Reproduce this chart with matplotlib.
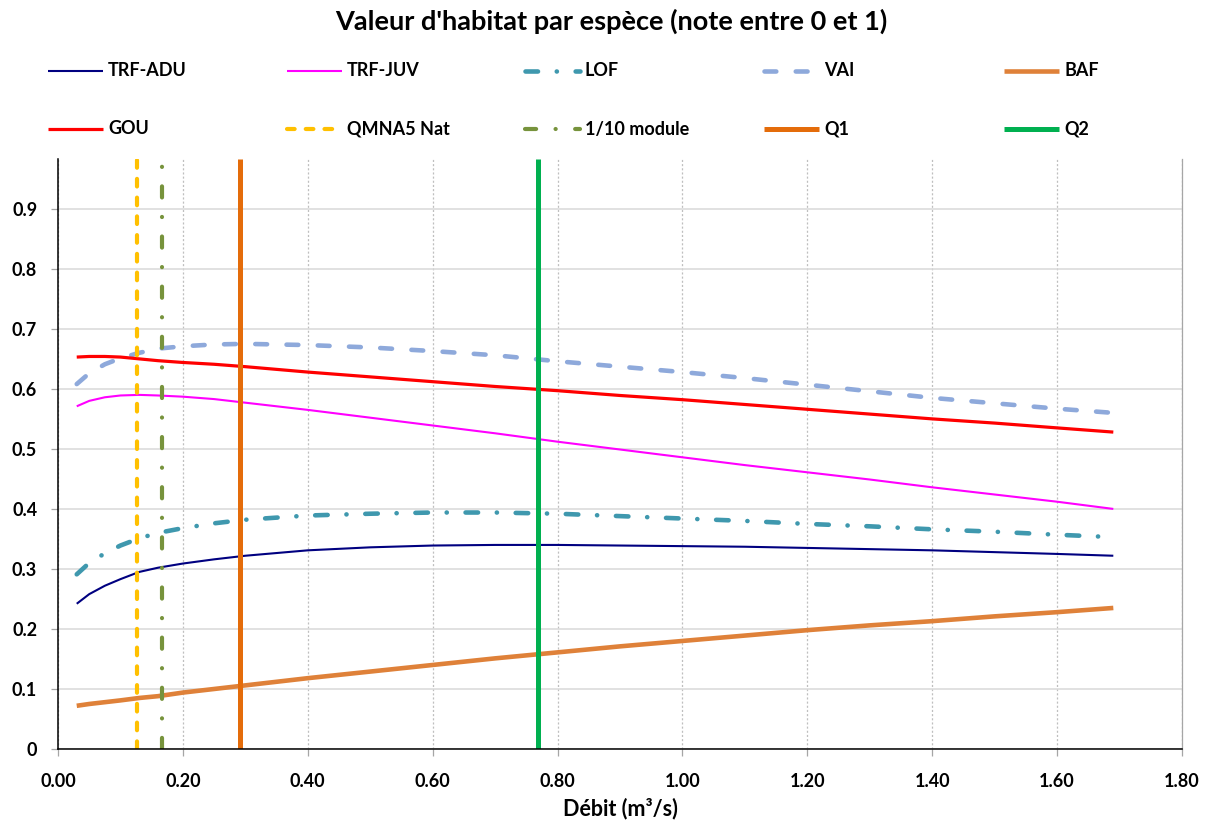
import matplotlib
matplotlib.use("Agg")
import matplotlib.pyplot as plt
from matplotlib.lines import Line2D
from matplotlib.ticker import FixedLocator, FuncFormatter

plt.rcParams['font.family'] = ['Lato', 'DejaVu Sans']
plt.rcParams['lines.scale_dashes'] = False

# Discharge (m3/s) and habitat value per species
debit = [0.03, 0.05, 0.075, 0.10, 0.13, 0.16, 0.20, 0.25, 0.30, 0.40, 0.50, 0.60,
         0.70, 0.80, 0.90, 1.00, 1.10, 1.20, 1.30, 1.40, 1.50, 1.60, 1.69]
trf_adu = [0.242, 0.258, 0.272, 0.283, 0.295, 0.302, 0.309, 0.316, 0.322, 0.331, 0.336, 0.339,
           0.340, 0.340, 0.339, 0.338, 0.337, 0.335, 0.333, 0.331, 0.328, 0.325, 0.322]
trf_juv = [0.571, 0.580, 0.586, 0.589, 0.590, 0.589, 0.587, 0.583, 0.577, 0.565, 0.552, 0.539,
           0.526, 0.512, 0.499, 0.486, 0.473, 0.461, 0.449, 0.436, 0.424, 0.412, 0.400]
lof = [0.291, 0.310, 0.326, 0.339, 0.351, 0.360, 0.368, 0.376, 0.382, 0.389, 0.392, 0.394,
       0.394, 0.392, 0.388, 0.384, 0.380, 0.375, 0.371, 0.366, 0.362, 0.357, 0.353]
vai = [0.608, 0.626, 0.641, 0.651, 0.660, 0.667, 0.671, 0.674, 0.675, 0.673, 0.669, 0.663,
       0.656, 0.646, 0.637, 0.628, 0.618, 0.607, 0.596, 0.585, 0.576, 0.567, 0.560]
baf = [0.072, 0.075, 0.078, 0.081, 0.085, 0.088, 0.094, 0.100, 0.106, 0.118, 0.129, 0.140,
       0.151, 0.161, 0.171, 0.180, 0.189, 0.198, 0.206, 0.213, 0.221, 0.228, 0.235]
gou = [0.653, 0.654, 0.654, 0.653, 0.650, 0.647, 0.644, 0.641, 0.637, 0.628, 0.620, 0.612,
       0.604, 0.597, 0.589, 0.582, 0.574, 0.566, 0.558, 0.550, 0.543, 0.535, 0.528]

# Reference discharges (m3/s)
qmna5_nat = 0.127
module_10 = 0.167
q1 = 0.292
q2 = 0.769

x_ticks = [0.0, 0.2, 0.4, 0.6, 0.8, 1.0, 1.2, 1.4, 1.6, 1.8]
y_ticks = [0, 0.1, 0.2, 0.3, 0.4, 0.5, 0.6, 0.7, 0.8, 0.9]

W, H = 1211, 825
fig = plt.figure(figsize=(W / 100, H / 100), dpi=100)
ax = fig.add_axes([58 / W, 1 - 749 / H, (1182 - 58) / W, (749 - 159) / H])

curves = [
    ("TRF-ADU", trf_adu, dict(color="#000080", lw=1.5, ls="-")),
    ("TRF-JUV", trf_juv, dict(color="#FF00FF", lw=1.5, ls="-")),
    ("LOF", lof, dict(color="#3F98AE", lw=3.3, ls=(0, (9, 13.5, 0.1, 13.5)),
                      dash_capstyle="round")),
    ("VAI", vai, dict(color="#8EA9DB", lw=3.3, ls=(0, (8.5, 14)), dash_capstyle="round")),
    ("BAF", baf, dict(color="#DF8139", lw=3.3, ls="-")),
    ("GOU", gou, dict(color="#FF0000", lw=2.3, ls="-")),
]
vlines = [
    ("QMNA5 Nat", qmna5_nat, dict(color="#FFC000", lw=3.0, ls=(0, (5.5, 8)),
                                 dash_capstyle="round")),
    ("1/10 module", module_10, dict(color="#77933C", lw=3.0, ls=(0, (8, 14, 0.1, 14)),
                                   dash_capstyle="round")),
    ("Q1", q1, dict(color="#E46C0A", lw=3.6, ls="-")),
    ("Q2", q2, dict(color="#00B050", lw=3.6, ls="-")),
]

for name, vals, st in curves:
    ax.plot(debit, vals, solid_capstyle="butt", **st)
for name, xv, st in vlines:
    ax.axvline(xv, solid_capstyle="butt", **st)

ax.set_xlim(0, 1.8)
ax.set_ylim(0, 0.983)
ax.xaxis.set_major_locator(FixedLocator(x_ticks))
ax.yaxis.set_major_locator(FixedLocator(y_ticks))
ax.xaxis.set_major_formatter(FuncFormatter(lambda v, p: f"{v:.2f}"))
ax.yaxis.set_major_formatter(FuncFormatter(lambda v, p: "0" if v == 0 else f"{v:.1f}"))

ax.grid(axis="y", color="#D9D9D9", lw=1.1, ls="-")
ax.grid(axis="x", color="#BFBFBF", lw=0.9, ls=(0, (1.5, 1.5)))
ax.set_axisbelow(True)
ax.spines["top"].set_visible(False)
ax.spines["right"].set_color("#A6A6A6")
ax.spines["right"].set_linewidth(0.9)
ax.spines["left"].set_color("black")
ax.spines["bottom"].set_color("black")
ax.spines["left"].set_linewidth(1.1)
ax.spines["bottom"].set_linewidth(1.1)
ax.tick_params(axis="both", direction="out", length=5, color="#A6A6A6", width=0.9,
               labelsize=13)
ax.tick_params(axis="x", pad=12)
ax.tick_params(axis="y", pad=10)
for lab in ax.get_xticklabels() + ax.get_yticklabels():
    lab.set_fontweight("bold")

ax.set_xlabel("Débit (m³/s)", fontsize=15.5, fontweight="bold", labelpad=6)
fig.text(611 / W, 1 - 21 / H, "Valeur d'habitat par espèce (note entre 0 et 1)",
         ha="center", va="center", fontsize=19.5, fontweight="bold")

# Legend laid out in two rows of five entries
entries = [(n, st) for n, _, st in curves] + [(n, st) for n, _, st in vlines]
col_x = [48, 287, 525, 764, 1004]
row_y = [71, 129]
for i, (name, st) in enumerate(entries):
    r, c = divmod(i, 5)
    x0 = col_x[c]
    y0 = 1 - row_y[r] / H
    line = Line2D([x0 / W, (x0 + 55) / W], [y0, y0], transform=fig.transFigure,
                  solid_capstyle="butt", **st)
    fig.add_artist(line)
    fig.text((x0 + 60) / W, y0, name, ha="left", va="center", fontsize=13,
             fontweight="bold")

fig.savefig("out.png", dpi=100)
